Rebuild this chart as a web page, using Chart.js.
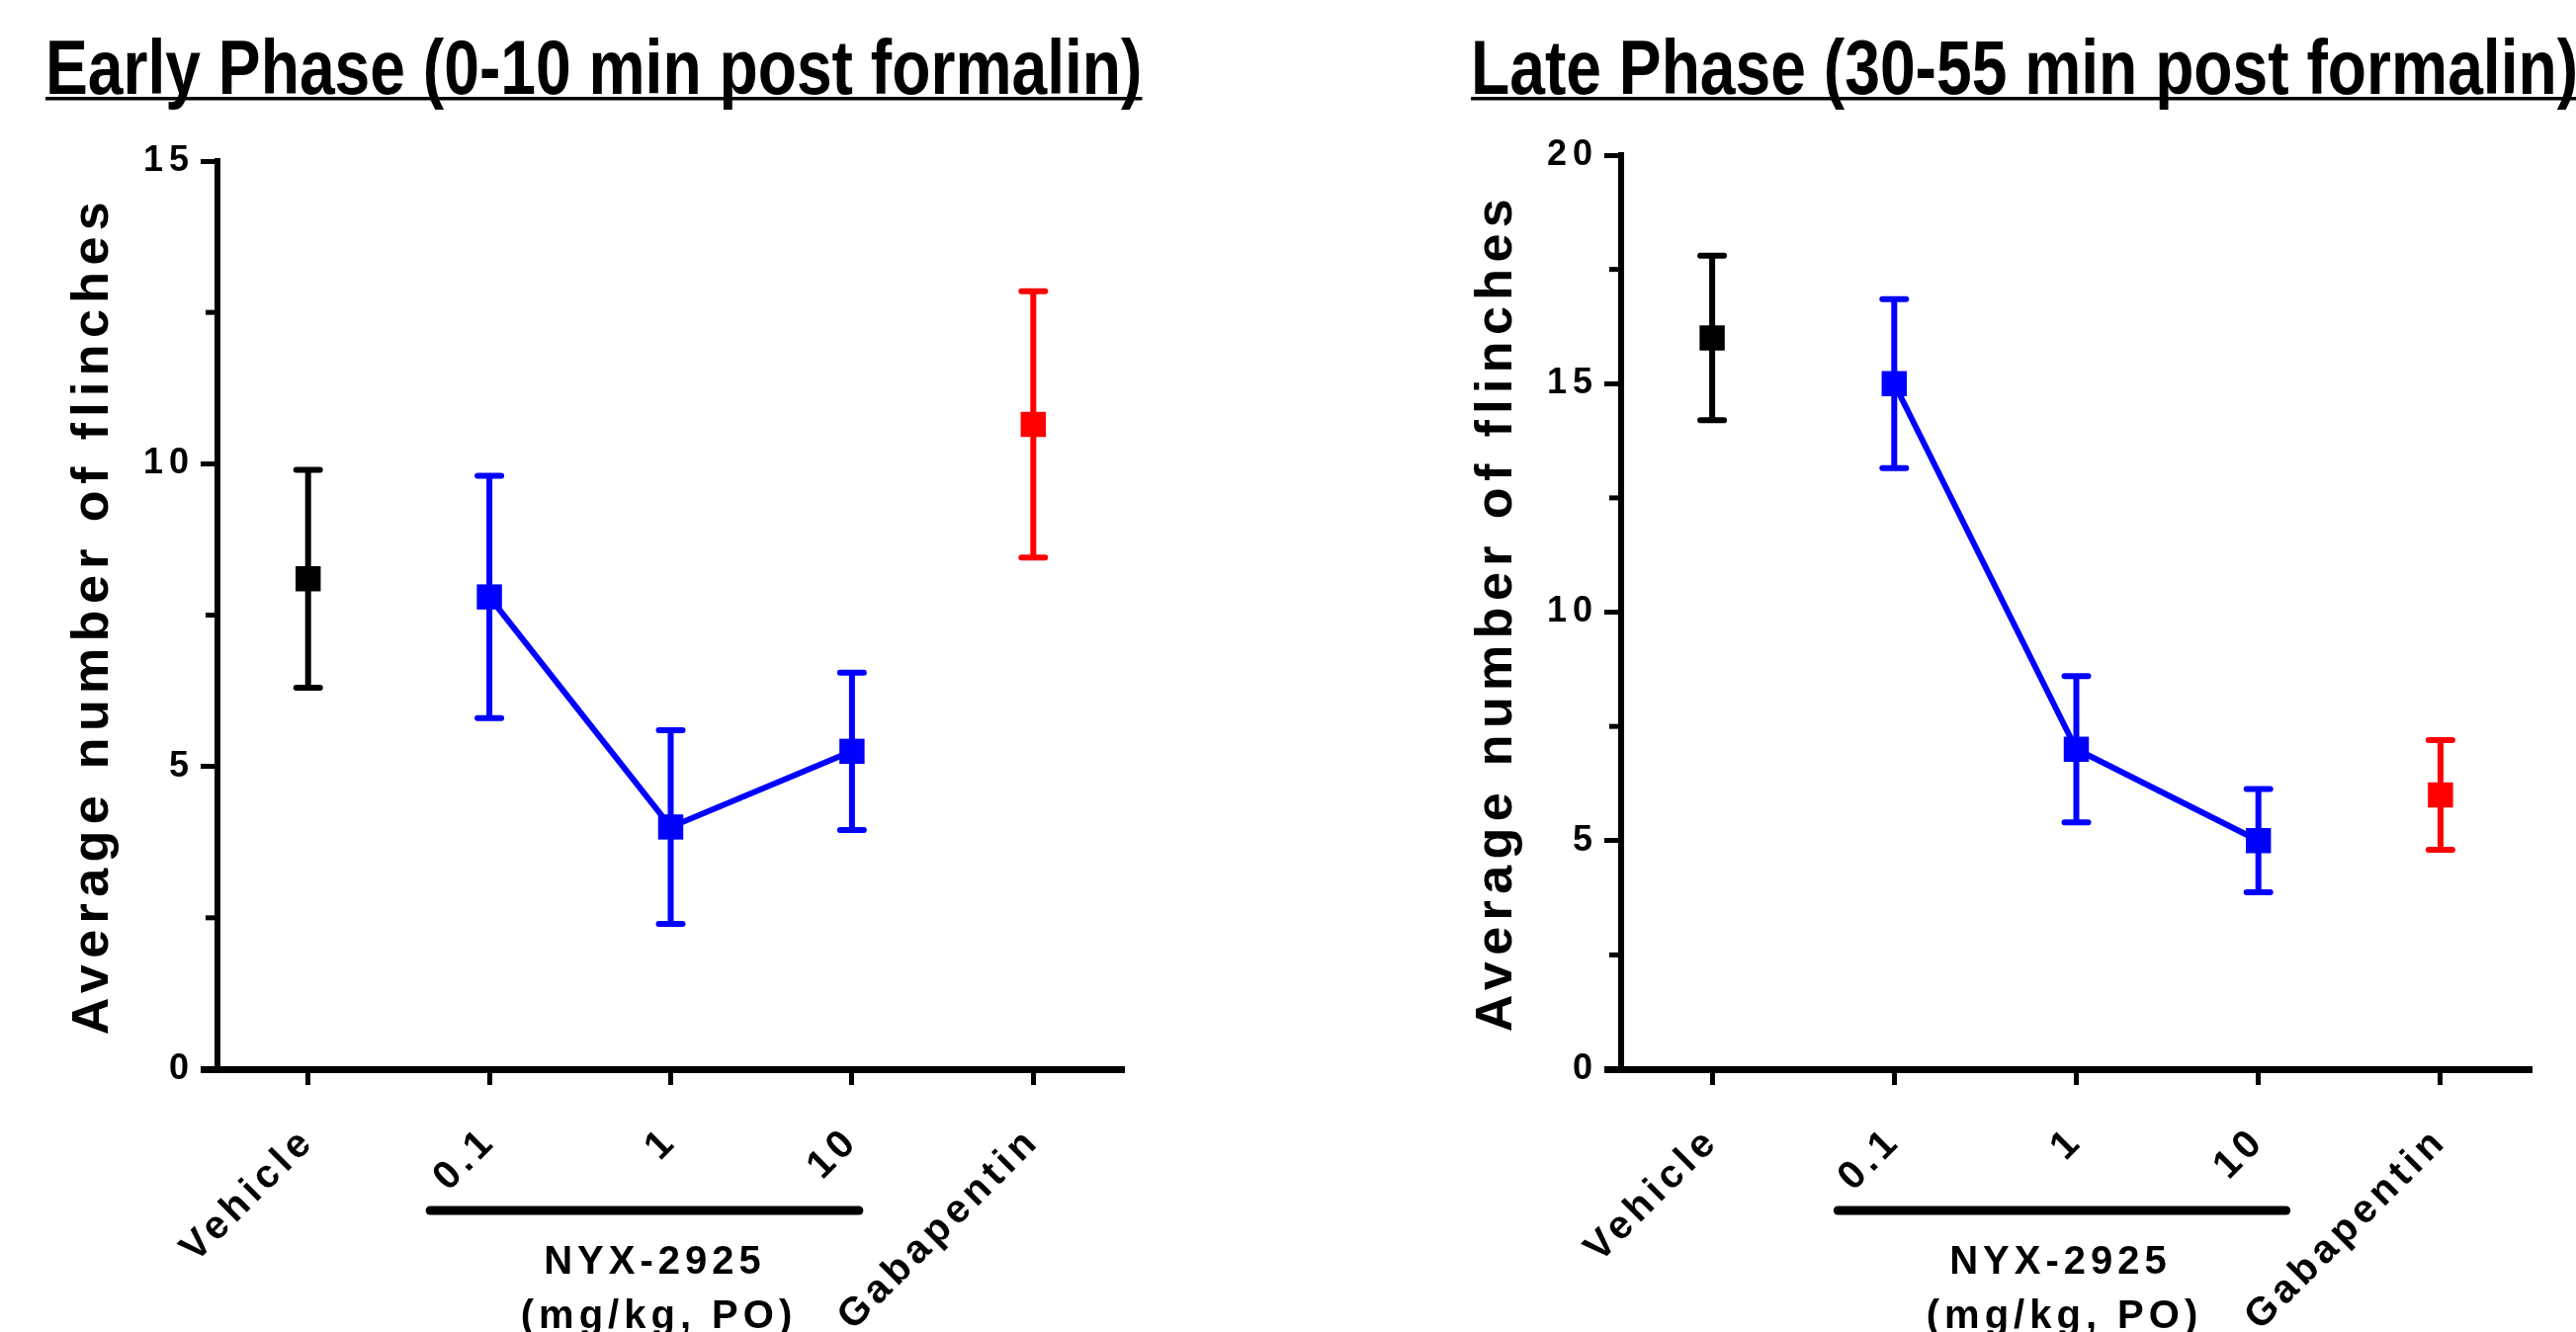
<!DOCTYPE html>
<html>
<head>
<meta charset="utf-8">
<script src="https://cdn.jsdelivr.net/npm/chart.js@4.4.1/dist/chart.umd.min.js"></script>
<style>
  html, body { margin: 0; padding: 0; background: #fff; }
  #wrap { position: relative; width: 2606px; height: 1348px; overflow: hidden; background: #fff; }
  canvas { position: absolute; top: 0; }
  #earlyChart { left: 0; }
  #lateChart { left: 1303px; }
</style>
</head>
<body>
<div id="wrap">
  <canvas id="earlyChart" width="1303" height="1348"></canvas>
  <canvas id="lateChart" width="1303" height="1348"></canvas>
</div>
<script>
// -- categories (x axis) --
const groups = ["Vehicle", "0.1", "1", "10", "Gabapentin"];
const treatment = ["vehicle", "nyx", "nyx", "nyx", "gaba"];

// -- early phase (0-10 min) : mean and SEM --
const earlyMean = [8.1, 7.8, 4.0, 5.25, 10.65];
const earlySem = [1.8, 2.0, 1.6, 1.3, 2.2];
const earlyTicks = [0, 5, 10, 15];
const earlyMinor = [2.5, 7.5, 12.5];

// -- late phase (30-55 min) : mean and SEM --
const lateMean = [16.0, 15.0, 7.0, 5.0, 6.0];
const lateSem = [1.8, 1.85, 1.6, 1.13, 1.2];
const lateTicks = [0, 5, 10, 15, 20];
const lateMinor = [2.5, 7.5, 12.5, 17.5];

const colors = { vehicle: "#000000", nyx: "#0000ff", gaba: "#ff0000" };
const FONT = "'Liberation Sans', Arial, Helvetica, sans-serif";

Chart.defaults.font.family = FONT;
Chart.defaults.color = "#000";

function seriesData(mean, key) {
    return mean.map((v, i) => treatment[i] === key ? v : null);
}

function makeDatasets(mean) {
    return ["vehicle", "nyx", "gaba"].map(key => ({
        label: key,
        data: seriesData(mean, key),
        borderColor: colors[key],
        backgroundColor: colors[key],
        borderWidth: 6,
        pointStyle: "rect",
        pointRadius: 18,
        pointHoverRadius: 18,
        pointBorderWidth: 0,
        spanGaps: false,
        tension: 0
    }));
}

//-- error bars (SEM) drawn under the markers --
const errorBars = {
    id: "errorBars",
    beforeDatasetsDraw(chart, args, opts) {
        const { ctx, scales: { x, y } } = chart;
        ctx.save();
        ctx.lineWidth = 6;
        ctx.lineCap = "round";
        opts.mean.forEach((m, i) => {
            const px = x.getPixelForValue(i);
            const top = y.getPixelForValue(m + opts.sem[i]);
            const bot = y.getPixelForValue(m - opts.sem[i]);
            ctx.strokeStyle = colors[treatment[i]];
            ctx.beginPath();
            ctx.moveTo(px, top); ctx.lineTo(px, bot);
            ctx.moveTo(px - 12, top); ctx.lineTo(px + 12, top);
            ctx.moveTo(px - 12, bot); ctx.lineTo(px + 12, bot);
            ctx.stroke();
        });
        ctx.restore();
    }
};

//-- letter spacing for Chart.js tick labels --
const spacing = {
    id: "spacing",
    beforeDraw(chart) { chart.ctx.letterSpacing = "6px"; },
    afterDraw(chart) { chart.ctx.letterSpacing = "0px"; }
};

//-- titles, axis title, rotated labels, NYX-2925 bracket --
const decor = {
    id: "decor",
    afterDraw(chart, args, o) {
        const { ctx, chartArea: a, scales: { x, y } } = chart;
        ctx.save();
        ctx.fillStyle = "#000";
        ctx.strokeStyle = "#000";

        // minor y ticks
        ctx.lineWidth = 5;
        o.minor.forEach(v => {
            const py = y.getPixelForValue(v);
            ctx.beginPath();
            ctx.moveTo(a.left - 3, py);
            ctx.lineTo(a.left - 12, py);
            ctx.stroke();
        });

        // chart title, condensed + underlined
        ctx.save();
        ctx.letterSpacing = "0px";
        ctx.font = "bold 78px " + FONT;
        ctx.textAlign = "left";
        ctx.textBaseline = "alphabetic";
        const sx = 0.823;
        const w = ctx.measureText(o.title).width * sx;
        ctx.translate(o.titleX, 95);
        ctx.scale(sx, 1);
        ctx.fillText(o.title, 0, 0);
        ctx.restore();
        ctx.fillRect(o.titleX, 98, w, 3.5);

        // y axis title
        ctx.save();
        ctx.letterSpacing = "6.4px";
        ctx.font = "bold 52px " + FONT;
        ctx.textAlign = "center";
        ctx.textBaseline = "middle";
        ctx.translate(a.left - 125, (a.top + a.bottom) / 2);
        ctx.rotate(-Math.PI / 2);
        ctx.fillText(o.yTitle, 0, 0);
        ctx.restore();

        // rotated category labels
        ctx.save();
        ctx.letterSpacing = "5px";
        ctx.font = "bold 40px " + FONT;
        groups.forEach((g, i) => {
            const px = x.getPixelForValue(i);
            ctx.save();
            ctx.translate(px - 3, a.bottom + 70);
            ctx.rotate(-Math.PI / 4);
            ctx.textAlign = "right";
            ctx.textBaseline = "middle";
            ctx.fillText(g, 5, 0);
            ctx.restore();
        });
        ctx.restore();

        // NYX-2925 bracket line and text
        const x1 = x.getPixelForValue(1) + o.barOff[0];
        const x3 = x.getPixelForValue(3) + o.barOff[1];
        ctx.lineWidth = 9;
        ctx.lineCap = "round";
        ctx.beginPath();
        ctx.moveTo(x1, a.bottom + 143);
        ctx.lineTo(x3, a.bottom + 143);
        ctx.stroke();

        const cx = (x.getPixelForValue(1) + x.getPixelForValue(3)) / 2 - 18;
        ctx.letterSpacing = "5px";
        ctx.font = "bold 40px " + FONT;
        ctx.textAlign = "center";
        ctx.textBaseline = "alphabetic";
        ctx.fillText("NYX-2925", cx + 2, a.bottom + 207);
        ctx.fillText("(mg/kg, PO)", cx + 6, a.bottom + 262);
        ctx.restore();
    }
};

function renderPhaseChart(id, cfg) {
    const ctx = document.getElementById(id).getContext("2d");
    return new Chart(ctx, {
        type: "line",
        data: { labels: groups, datasets: makeDatasets(cfg.mean) },
        options: {
            responsive: false,
            animation: false,
            devicePixelRatio: 1,
            layout: { padding: cfg.padding },
            plugins: {
                legend: { display: false },
                tooltip: { enabled: false },
                title: { display: false },
                errorBars: { mean: cfg.mean, sem: cfg.sem },
                decor: {
                    title: cfg.title,
                    titleX: cfg.titleX,
                    yTitle: "Average number of flinches",
                    minor: cfg.minor,
                    barOff: cfg.barOff
                }
            },
            scales: {
                x: {
                    type: "category",
                    offset: true,
                    grid: { drawOnChartArea: false, drawTicks: true, tickLength: 16, tickWidth: 5, tickColor: "#000" },
                    border: { display: true, color: "#000", width: 7 },
                    ticks: { display: false },
                    afterFit: s => { s.height = 266; }
                },
                y: {
                    min: 0,
                    max: cfg.max,
                    afterBuildTicks: s => { s.ticks = cfg.ticks.map(v => ({ value: v })); },
                    grid: {
                        drawOnChartArea: false, drawTicks: true, tickLength: 17,
                        tickWidth: c => (c.tick && c.tick.value === 0 ? 7 : 5),
                        tickColor: "#000"
                    },
                    border: { display: true, color: "#000", width: 6 },
                    ticks: { font: { size: 36, weight: "bold" }, color: "#000", padding: 6 },
                    afterFit: s => { s.width = 220; }
                }
            }
        },
        plugins: [spacing, errorBars, decor]
    });
}

renderPhaseChart("earlyChart", {
    mean: earlyMean, sem: earlySem, ticks: earlyTicks, minor: earlyMinor, max: 15,
    title: "Early Phase (0-10 min post formalin)", titleX: 46,
    padding: { left: 0, top: 163, right: 166, bottom: 0 },
    barOff: [-60, 7]
});

renderPhaseChart("lateChart", {
    mean: lateMean, sem: lateSem, ticks: lateTicks, minor: lateMinor, max: 20,
    title: "Late Phase (30-55 min post formalin)", titleX: 185,
    padding: { left: 117, top: 157, right: 45, bottom: 0 },
    barOff: [-57, 28]
});
</script>
</body>
</html>
